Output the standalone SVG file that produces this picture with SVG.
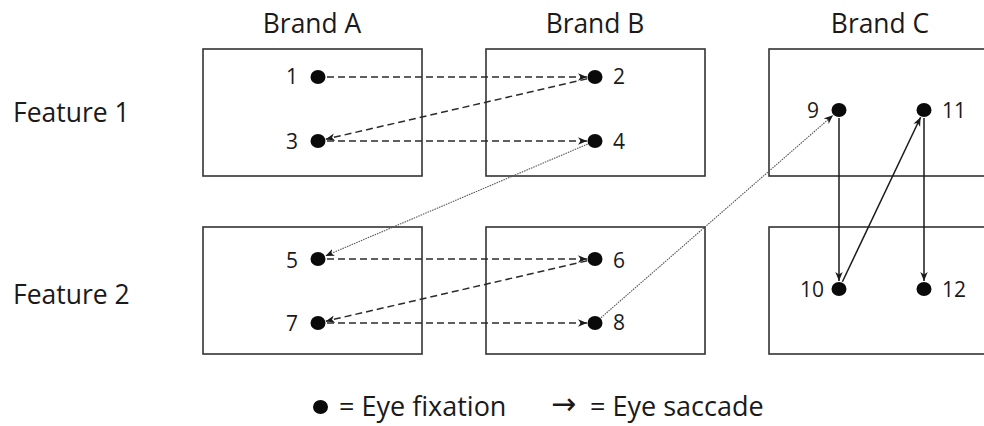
<svg xmlns="http://www.w3.org/2000/svg" width="984" height="426" viewBox="0 0 984 426">
<style>
  .box { fill: #ffffff; stroke: #333333; stroke-width: 1.6; }
  .dot { fill: #0a0a0a; }
  .lbl { font-family: "Open Sans", "Liberation Sans", sans-serif; font-size: 21px; fill: #1a1a1a; }
  .hdr { font-family: "Open Sans", "Liberation Sans", sans-serif; font-size: 26.4px; fill: #1a1a1a; text-anchor: middle; }
  .feat { font-family: "Open Sans", "Liberation Sans", sans-serif; font-size: 26.5px; fill: #1a1a1a; }
  .leg { font-family: "Open Sans", "Liberation Sans", sans-serif; font-size: 27px; fill: #1a1a1a; }
  .dash { fill: none; stroke: #2b2b2b; stroke-width: 1.5; stroke-dasharray: 7 4; marker-end: url(#ah); }
  .dot-line { fill: none; stroke: #555555; stroke-width: 1.1; stroke-dasharray: 1.5 1; marker-end: url(#ah); }
  .solid { fill: none; stroke: #1a1a1a; stroke-width: 1.5; marker-end: url(#ah); }
</style>
<defs>
  <marker id="ah" markerUnits="userSpaceOnUse" markerWidth="11" markerHeight="9" refX="9" refY="4" orient="auto">
    <path d="M0,0.3 L9,4 L0,7.7 L2.6,4 z" fill="#1a1a1a"/>
  </marker>
</defs>
<rect width="984" height="426" fill="#ffffff"/>

<g id="headers">
  <text class="hdr" x="312" y="33">Brand A</text>
  <text class="hdr" x="595" y="33">Brand B</text>
  <text class="hdr" x="880" y="33">Brand C</text>
  <text class="feat" x="13" y="121.5">Feature 1</text>
  <text class="feat" x="13" y="303.5">Feature 2</text>
</g>

<g id="box-a1"><rect class="box" x="203" y="49" width="219" height="127"/></g>
<g id="box-b1"><rect class="box" x="486" y="49" width="219" height="127"/></g>
<g id="box-c1"><rect class="box" x="769" y="49" width="230" height="127"/></g>
<g id="box-a2"><rect class="box" x="203" y="227" width="219" height="127"/></g>
<g id="box-b2"><rect class="box" x="486" y="227" width="219" height="127"/></g>
<g id="box-c2"><rect class="box" x="769" y="227" width="230" height="127"/></g>

<g id="connectors">
  <line class="dash" x1="327" y1="77" x2="587" y2="77"/>
  <line class="dash" x1="587.2" y1="78.8" x2="325.8" y2="139.2"/>
  <line class="dash" x1="327" y1="141" x2="587" y2="141"/>
  <line class="dot-line" x1="587.6" y1="144.1" x2="325.4" y2="255.9"/>
  <line class="dash" x1="327" y1="259" x2="587" y2="259"/>
  <line class="dash" x1="587.2" y1="260.8" x2="325.8" y2="321.2"/>
  <line class="dash" x1="327" y1="323" x2="587" y2="323"/>
  <line class="dot-line" x1="601" y1="317.7" x2="833" y2="115.3"/>
  <line class="solid" x1="839" y1="118" x2="839" y2="281"/>
  <line class="solid" x1="842.4" y1="281.8" x2="920.6" y2="117.2"/>
  <line class="solid" x1="924" y1="118" x2="924" y2="281"/>
</g>

<g id="fix-1"><ellipse class="dot" cx="318" cy="77" rx="7.5" ry="7"/><text class="lbl" x="298" y="84" text-anchor="end">1</text></g>
<g id="fix-2"><ellipse class="dot" cx="595" cy="77" rx="7.5" ry="7"/><text class="lbl" x="613" y="84">2</text></g>
<g id="fix-3"><ellipse class="dot" cx="318" cy="141" rx="7.5" ry="7"/><text class="lbl" x="298" y="148.5" text-anchor="end">3</text></g>
<g id="fix-4"><ellipse class="dot" cx="595" cy="141" rx="7.5" ry="7"/><text class="lbl" x="613" y="148.5">4</text></g>
<g id="fix-5"><ellipse class="dot" cx="318" cy="259" rx="7.5" ry="7"/><text class="lbl" x="298" y="268" text-anchor="end">5</text></g>
<g id="fix-6"><ellipse class="dot" cx="595" cy="259" rx="7.5" ry="7"/><text class="lbl" x="613" y="268">6</text></g>
<g id="fix-7"><ellipse class="dot" cx="318" cy="323" rx="7.5" ry="7"/><text class="lbl" x="298" y="331" text-anchor="end">7</text></g>
<g id="fix-8"><ellipse class="dot" cx="595" cy="323" rx="7.5" ry="7"/><text class="lbl" x="613" y="330">8</text></g>
<g id="fix-9"><ellipse class="dot" cx="839" cy="110" rx="7.5" ry="7"/><text class="lbl" x="819" y="117.5" text-anchor="end">9</text></g>
<g id="fix-10"><ellipse class="dot" cx="839" cy="289" rx="7.5" ry="7"/><text class="lbl" x="824" y="296.5" text-anchor="end">10</text></g>
<g id="fix-11"><ellipse class="dot" cx="924" cy="110" rx="7.5" ry="7"/><text class="lbl" x="942" y="117.5">11</text></g>
<g id="fix-12"><ellipse class="dot" cx="924" cy="289" rx="7.5" ry="7"/><text class="lbl" x="942" y="296.5">12</text></g>

<g id="legend">
  <ellipse class="dot" cx="320.5" cy="407" rx="7.5" ry="7"/>
  <text class="leg" x="339" y="416">= Eye fixation</text>
  <text x="551" y="414" font-family="DejaVu Sans, sans-serif" font-size="30" fill="#1a1a1a">→</text>
  <text class="leg" x="590" y="416">= Eye saccade</text>
</g>
</svg>
